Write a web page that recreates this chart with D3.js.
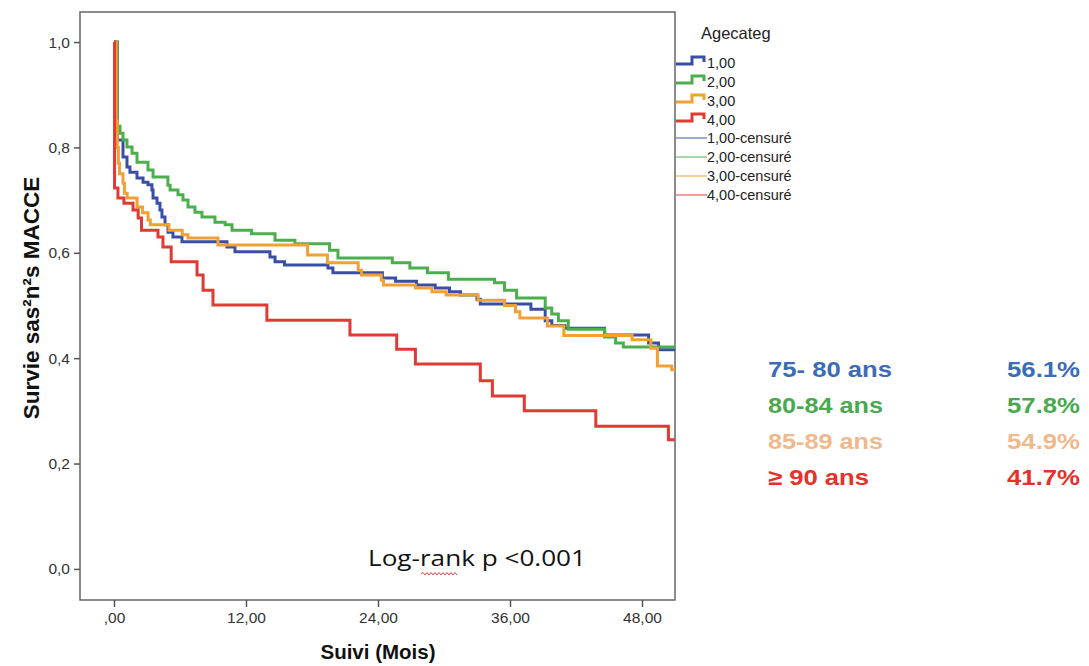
<!DOCTYPE html>
<html>
<head>
<meta charset="utf-8">
<script src="https://cdn.jsdelivr.net/npm/d3@7"></script>
<style>
  html, body { margin: 0; padding: 0; background: #fff; }
  svg { display: block; }
</style>
</head>
<body>
<svg id="chart" width="1089" height="666"></svg>
<script>
// ---------------- DATA ----------------
const xTicks = [0, 12, 24, 36, 48];
const xTickLabels = [",00", "12,00", "24,00", "36,00", "48,00"];
const yTicks = [0, 0.2, 0.4, 0.6, 0.8, 1.0];
const yTickLabels = ["0,0", "0,2", "0,4", "0,6", "0,8", "1,0"];
const followUpEnd = 51;

const legendTitle = "Agecateg";
const legendLabels = ["1,00", "2,00", "3,00", "4,00"];
const censoredLabels = ["1,00-censuré", "2,00-censuré", "3,00-censuré", "4,00-censuré"];

const groupNames = ["75- 80 ans", "80-84 ans", "85-89 ans", "≥ 90 ans"];
const groupRates = ["56.1%", "57.8%", "54.9%", "41.7%"];

// Kaplan-Meier steps: [time (months), survival after step]
const surv1 = [[0,1.0],[0.3,0.814],[0.82,0.782],[1.18,0.763],[1.45,0.753],[2.09,0.742],[2.64,0.734],
  [3.09,0.729],[3.45,0.719],[3.55,0.704],[3.91,0.694],[4.18,0.681],[4.36,0.668],[4.64,0.653],[4.91,0.639],
  [5.36,0.630],[6.18,0.621],[10.27,0.611],[11.0,0.602],[14.18,0.592],[14.64,0.583],[15.5,0.577],
  [19.45,0.571],[19.9,0.562],[24.4,0.552],[25.6,0.546],[27.5,0.539],[29.2,0.533],[30.5,0.526],
  [31.5,0.520],[33.0,0.512],[33.3,0.503],[37.9,0.493],[39.2,0.471],[39.8,0.462],[41.0,0.457],
  [44.6,0.444],[48.6,0.429],[49.5,0.416]];
const surv2 = [[0,1.0],[0.27,0.84],[0.55,0.827],[0.82,0.814],[1.18,0.801],[1.64,0.789],[2.09,0.772],
  [3.09,0.757],[3.55,0.744],[4.9,0.728],[5.1,0.719],[5.82,0.710],[6.27,0.700],[6.73,0.687],[7.36,0.677],
  [8.0,0.668],[9.18,0.658],[10.1,0.653],[10.73,0.643],[12.5,0.636],[14.64,0.624],[16.45,0.617],
  [19.6,0.605],[20.36,0.590],[25.3,0.581],[26.9,0.571],[28.5,0.562],[30.4,0.550],[34.6,0.543],
  [35.5,0.529],[36.6,0.514],[39.2,0.495],[39.8,0.484],[40.4,0.471],[41.3,0.455],[44.6,0.440],
  [45.6,0.429],[46.3,0.421]];
const surv3 = [[0,1.0],[0.2,0.85],[0.3,0.80],[0.4,0.77],[0.5,0.75],[0.82,0.732],[0.95,0.713],[1.2,0.704],
  [2.1,0.687],[2.6,0.676],[3.1,0.662],[3.3,0.653],[5.0,0.643],[6.2,0.634],[6.73,0.628],[9.45,0.615],
  [17.6,0.596],[19.4,0.581],[22.2,0.567],[22.5,0.558],[24.3,0.548],[24.5,0.539],[27.4,0.533],
  [28.9,0.526],[30.2,0.520],[33.1,0.510],[35.5,0.500],[36.5,0.488],[36.9,0.476],[39.4,0.461],
  [40.9,0.443],[47.1,0.435],[48.8,0.419],[49.4,0.385],[50.7,0.378]];
const surv4 = [[0,1.0],[0.05,0.723],[0.36,0.704],[0.9,0.694],[1.73,0.681],[2.2,0.666],[2.5,0.643],
  [4.0,0.630],[4.45,0.611],[5.2,0.583],[7.55,0.558],[8.1,0.529],[9.0,0.501],[13.9,0.472],[21.45,0.444],
  [25.7,0.417],[27.4,0.389],[33.3,0.357],[34.4,0.328],[37.3,0.300],[43.8,0.271],[50.4,0.245]];

const seriesColors = ["#3b4ea6", "#4cae4c", "#f0a035", "#e03a35"];
const textColors = ["#3b6cb7", "#4aa84e", "#f0b98c", "#e8302a"];

// ---------------- CHART ----------------
const svg = d3.select("#chart");
const font = "'Liberation Sans', Arial, sans-serif";

const x = d3.scaleLinear().domain([-3.09, 51]).range([80, 675]);
const y = d3.scaleLinear().domain([-0.059, 1.057]).range([600, 12]);

// frame
svg.append("rect").attr("x", 80).attr("y", 12).attr("width", 595).attr("height", 588)
  .attr("fill", "none").attr("stroke", "#666").attr("stroke-width", 1.5);

// axes
const xAxis = d3.axisBottom(x).tickValues(xTicks).tickFormat((d, i) => xTickLabels[i])
  .tickSize(7).tickSizeOuter(0).tickPadding(5);
const gx = svg.append("g").attr("transform", "translate(0,600)").call(xAxis);
gx.select(".domain").remove();
gx.selectAll("line").attr("stroke", "#555").attr("stroke-width", 1.5);
gx.selectAll("text").attr("font-family", font).attr("font-size", 15.5).attr("fill", "#333");

const yAxis = d3.axisLeft(y).tickValues(yTicks).tickFormat((d, i) => yTickLabels[i])
  .tickSize(6).tickSizeOuter(0).tickPadding(4);
const gy = svg.append("g").attr("transform", "translate(80,0)").call(yAxis);
gy.select(".domain").remove();
gy.selectAll("line").attr("stroke", "#555").attr("stroke-width", 1.5);
gy.selectAll("text").attr("font-family", font).attr("font-size", 15.5).attr("fill", "#333");

// axis titles
svg.append("text").attr("x", 378).attr("y", 659).attr("text-anchor", "middle")
  .attr("font-family", font).attr("font-weight", "bold").attr("font-size", 20.5).attr("fill", "#111")
  .text("Suivi (Mois)");
svg.append("text").attr("transform", "translate(39,298) rotate(-90)").attr("text-anchor", "middle")
  .attr("font-family", font).attr("font-weight", "bold").attr("font-size", 22.5).attr("fill", "#111")
  .text("Survie sas²n²s MACCE");

// curves
const line = d3.line().x(d => x(d[0])).y(d => y(d[1])).curve(d3.curveStepAfter);
const allSeries = [surv1, surv2, surv3, surv4];
allSeries.forEach((s, i) => {
  const pts = s.concat([[followUpEnd, s[s.length - 1][1]]]);
  svg.append("path").datum(pts).attr("d", line).attr("fill", "none")
    .attr("stroke", seriesColors[i]).attr("stroke-width", 3).attr("stroke-linejoin", "miter");
});

// legend
svg.append("text").attr("x", 701).attr("y", 39).attr("font-family", font).attr("font-size", 16.5)
  .attr("fill", "#222").text(legendTitle);
const legRowY = [62, 81, 100, 119];
legendLabels.forEach((lab, i) => {
  const ly = legRowY[i];
  svg.append("path").attr("d", `M676,${ly + 2}H692V${ly - 5}H704V${ly}`).attr("fill", "none")
    .attr("stroke", seriesColors[i]).attr("stroke-width", 3);
  svg.append("text").attr("x", 707).attr("y", ly + 6).attr("font-family", font).attr("font-size", 14.5)
    .attr("fill", "#222").text(lab);
});
const cenRowY = [138, 157, 176, 195];
censoredLabels.forEach((lab, i) => {
  const ly = cenRowY[i];
  svg.append("line").attr("x1", 676).attr("x2", 707).attr("y1", ly).attr("y2", ly)
    .attr("stroke", seriesColors[i]).attr("stroke-width", 1.2).attr("opacity", 0.8);
  svg.append("text").attr("x", 707).attr("y", ly + 5).attr("font-family", font).attr("font-size", 14.5)
    .attr("fill", "#222").text(lab);
});

// log-rank annotation
svg.append("text").attr("x", 368).attr("y", 566).attr("font-family", "'Open Sans', 'Liberation Sans', sans-serif")
  .attr("font-size", 22).attr("fill", "#111").attr("textLength", 218).attr("lengthAdjust", "spacingAndGlyphs")
  .text("Log-rank p <0.001");
let wave = "M421,574";
for (let xx = 423; xx <= 457; xx += 2) wave += `L${xx},${((xx - 421) / 2) % 2 ? 572.5 : 575}`;
svg.append("path").attr("d", wave).attr("fill", "none").attr("stroke", "#e03030").attr("stroke-width", 0.9);

// group survival table
const rowY = [377, 413, 449, 485];
const nameWidths = [124, 115, 115, 101];
const rateWidths = [73, 73, 73, 73];
groupNames.forEach((n, i) => {
  svg.append("text").attr("x", 768).attr("y", rowY[i]).attr("font-family", font).attr("font-weight", "bold")
    .attr("font-size", 22).attr("fill", textColors[i])
    .attr("textLength", nameWidths[i]).attr("lengthAdjust", "spacingAndGlyphs").text(n);
  svg.append("text").attr("x", 1007).attr("y", rowY[i]).attr("font-family", font).attr("font-weight", "bold")
    .attr("font-size", 22).attr("fill", textColors[i])
    .attr("textLength", rateWidths[i]).attr("lengthAdjust", "spacingAndGlyphs").text(groupRates[i]);
});
</script>
</body>
</html>
